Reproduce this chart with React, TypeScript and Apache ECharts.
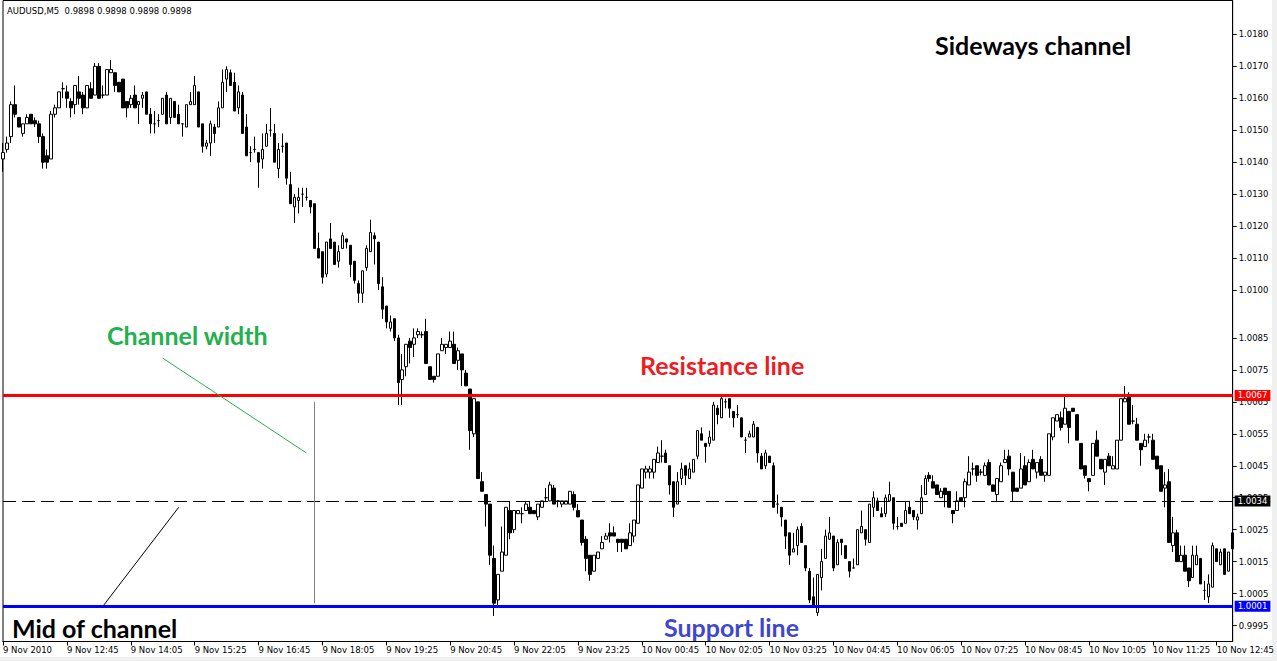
import React, { useEffect, useRef } from "react";
import * as echarts from "echarts";

// AUDUSD M5 bars, 9 Nov 2010 11:25 -> 10 Nov 2010 13:05
const opens = [
  1.0141,1.0144,1.0148,1.0158,1.0154,1.0149,1.0152,1.0155,1.0153,1.0152,
  1.0148,1.0142,1.0141,1.0155,1.0157,1.0163,1.0162,1.0159,1.0158,1.0162,
  1.0161,1.0157,1.0163,1.0161,1.0170,1.0161,1.0161,1.0168,1.0168,1.0165,
  1.0166,1.0159,1.0158,1.0161,1.0158,1.0160,1.0162,1.0155,1.0152,1.0153,
  1.0155,1.0161,1.0154,1.0159,1.0155,1.0152,1.0151,1.0158,1.0158,1.0162,
  1.0152,1.0145,1.0146,1.0151,1.0151,1.0157,1.0166,1.0168,1.0165,1.0157,
  1.0161,1.0151,1.0143,1.0144,1.0143,1.0141,1.0145,1.0150,1.0149,1.0138,
  1.0145,1.0146,1.0133,1.0126,1.0128,1.0130,1.0129,1.0128,1.0127,1.0113,
  1.0112,1.0105,1.0116,1.0115,1.0109,1.0113,1.0116,1.0114,1.0109,1.0102,
  1.0099,1.0107,1.0112,1.0117,1.0115,1.0101,1.0095,1.0088,1.0091,1.0085,
  1.0072,1.0076,1.0084,1.0083,1.0086,1.0086,1.0087,1.0076,1.0073,1.0073,
  1.0081,1.0082,1.0082,1.0083,1.0078,1.0080,1.0074,1.0069,1.0055,1.0065,
  1.0040,1.0036,1.0033,1.0016,1.0003,1.0012,1.0017,1.0031,1.0025,1.0030,
  1.0030,1.0031,1.0032,1.0031,1.0029,1.0032,1.0035,1.0034,1.0038,1.0034,
  1.0033,1.0033,1.0033,1.0036,1.0031,1.0028,1.0022,1.0017,1.0012,1.0016,
  1.0019,1.0022,1.0024,1.0024,1.0022,1.0022,1.0022,1.0020,1.0023,1.0027,
  1.0038,1.0043,1.0043,1.0043,1.0046,1.0048,1.0049,1.0045,1.0040,1.0033,
  1.0041,1.0045,1.0041,1.0043,1.0048,1.0055,1.0052,1.0052,1.0053,1.0063,
  1.0060,1.0065,1.0066,1.0062,1.0061,1.0060,1.0053,1.0054,1.0054,1.0057,
  1.0048,1.0045,1.0048,1.0045,1.0033,1.0032,1.0028,1.0024,1.0018,1.0020,
  1.0026,1.0020,1.0012,1.0004,0.9999,1.0010,1.0016,1.0022,1.0023,1.0014,
  1.0022,1.0020,1.0015,1.0013,1.0014,1.0024,1.0025,1.0021,1.0032,1.0034,
  1.0030,1.0030,1.0034,1.0035,1.0026,1.0027,1.0027,1.0032,1.0031,1.0028,
  1.0030,1.0036,1.0042,1.0040,1.0039,1.0035,1.0038,1.0037,1.0031,1.0031,
  1.0035,1.0035,1.0039,1.0044,1.0045,1.0043,1.0042,1.0046,1.0039,1.0036,
  1.0040,1.0046,1.0048,1.0043,1.0038,1.0038,1.0045,1.0040,1.0047,1.0043,
  1.0047,1.0042,1.0042,1.0054,1.0059,1.0060,1.0058,1.0062,1.0063,1.0061,
  1.0052,1.0045,1.0041,1.0042,1.0053,1.0047,1.0043,1.0048,1.0044,1.0044,
  1.0053,1.0065,1.0067,1.0059,1.0058,1.0052,1.0051,1.0054,1.0053,1.0048,
  1.0045,1.0038,1.0040,1.0020,1.0024,1.0015,1.0017,1.0013,1.0010,1.0014,
  1.0016,1.0006,1.0004,1.0007,1.0019,1.0014,1.0019,1.0012,1.0024,
];

const closes = [
  1.0143,1.0146,1.0158,1.0155,1.0151,1.0152,1.0154,1.0152,1.0152,1.0148,
  1.0140,1.0140,1.0155,1.0157,1.0162,1.0163,1.0160,1.0157,1.0164,1.0160,
  1.0157,1.0164,1.0160,1.0170,1.0160,1.0161,1.0169,1.0169,1.0164,1.0162,
  1.0157,1.0157,1.0160,1.0157,1.0159,1.0161,1.0155,1.0152,1.0152,1.0153,
  1.0160,1.0152,1.0160,1.0154,1.0152,1.0152,1.0158,1.0159,1.0164,1.0151,
  1.0145,1.0146,1.0152,1.0149,1.0157,1.0165,1.0169,1.0164,1.0156,1.0162,
  1.0149,1.0142,1.0143,1.0144,1.0140,1.0144,1.0149,1.0150,1.0140,1.0144,
  1.0145,1.0135,1.0127,1.0129,1.0129,1.0130,1.0129,1.0126,1.0113,1.0110,
  1.0104,1.0115,1.0113,1.0108,1.0112,1.0117,1.0115,1.0108,1.0103,1.0099,
  1.0106,1.0113,1.0118,1.0116,1.0102,1.0094,1.0090,1.0090,1.0085,1.0071,
  1.0075,1.0083,1.0082,1.0085,1.0087,1.0086,1.0077,1.0072,1.0072,1.0080,
  1.0083,1.0083,1.0084,1.0077,1.0081,1.0075,1.0070,1.0056,1.0066,1.0041,
  1.0037,1.0033,1.0017,1.0002,1.0011,1.0018,1.0032,1.0024,1.0031,1.0031,
  1.0030,1.0033,1.0030,1.0030,1.0033,1.0034,1.0035,1.0039,1.0033,1.0034,
  1.0034,1.0034,1.0037,1.0032,1.0029,1.0021,1.0016,1.0011,1.0017,1.0018,
  1.0021,1.0023,1.0023,1.0023,1.0021,1.0021,1.0019,1.0024,1.0028,1.0039,
  1.0044,1.0044,1.0044,1.0047,1.0049,1.0048,1.0046,1.0039,1.0032,1.0040,
  1.0044,1.0042,1.0044,1.0047,1.0056,1.0053,1.0051,1.0054,1.0064,1.0061,
  1.0066,1.0065,1.0063,1.0060,1.0061,1.0054,1.0053,1.0055,1.0058,1.0049,
  1.0044,1.0049,1.0046,1.0032,1.0033,1.0029,1.0023,1.0017,1.0019,1.0025,
  1.0021,1.0013,1.0003,1.0001,1.0011,1.0015,1.0023,1.0024,1.0013,1.0021,
  1.0021,1.0016,1.0012,1.0013,1.0025,1.0026,1.0022,1.0033,1.0035,1.0031,
  1.0029,1.0035,1.0036,1.0027,1.0026,1.0026,1.0031,1.0030,1.0029,1.0029,
  1.0035,1.0041,1.0041,1.0038,1.0036,1.0037,1.0036,1.0032,1.0030,1.0034,
  1.0034,1.0040,1.0043,1.0044,1.0042,1.0043,1.0045,1.0039,1.0037,1.0041,
  1.0045,1.0047,1.0044,1.0037,1.0037,1.0044,1.0039,1.0046,1.0044,1.0046,
  1.0042,1.0043,1.0055,1.0060,1.0061,1.0057,1.0063,1.0057,1.0062,1.0053,
  1.0044,1.0042,1.0040,1.0052,1.0048,1.0044,1.0047,1.0045,1.0045,1.0053,
  1.0066,1.0066,1.0058,1.0059,1.0053,1.0050,1.0053,1.0054,1.0047,1.0044,
  1.0037,1.0039,1.0021,1.0024,1.0015,1.0017,1.0012,1.0009,1.0017,1.0017,
  1.0008,1.0006,1.0008,1.0020,1.0015,1.0018,1.0011,1.0018,1.0019,
];

const lows = [
  1.0137,1.0143,1.0146,1.0154,1.0151,1.0148,1.0152,1.0152,1.0151,1.0146,
  1.0138,1.0138,1.0141,1.0154,1.0157,1.0160,1.0157,1.0154,1.0155,1.0158,
  1.0155,1.0157,1.0160,1.0161,1.0160,1.0160,1.0161,1.0168,1.0162,1.0162,
  1.0157,1.0154,1.0157,1.0157,1.0152,1.0157,1.0155,1.0149,1.0149,1.0151,
  1.0155,1.0152,1.0152,1.0154,1.0152,1.0148,1.0151,1.0158,1.0158,1.0151,
  1.0143,1.0144,1.0142,1.0146,1.0151,1.0157,1.0162,1.0164,1.0156,1.0155,
  1.0149,1.0142,1.0140,1.0143,1.0132,1.0138,1.0145,1.0148,1.0140,1.0135,
  1.0143,1.0133,1.0127,1.0121,1.0124,1.0126,1.0128,1.0124,1.0113,1.0110,
  1.0102,1.0104,1.0113,1.0108,1.0107,1.0113,1.0113,1.0104,1.0102,1.0096,
  1.0096,1.0106,1.0112,1.0108,1.0100,1.0091,1.0088,1.0087,1.0084,1.0064,
  1.0064,1.0073,1.0077,1.0079,1.0085,1.0085,1.0077,1.0072,1.0071,1.0073,
  1.0081,1.0080,1.0082,1.0077,1.0075,1.0070,1.0070,1.0050,1.0054,1.0041,
  1.0037,1.0026,1.0014,0.9998,1.0001,1.0012,1.0017,1.0022,1.0024,1.0030,
  1.0027,1.0031,1.0030,1.0030,1.0028,1.0032,1.0034,1.0034,1.0033,1.0032,
  1.0032,1.0033,1.0033,1.0031,1.0029,1.0020,1.0012,1.0009,1.0012,1.0016,
  1.0019,1.0022,1.0021,1.0023,1.0018,1.0018,1.0019,1.0020,1.0021,1.0027,
  1.0038,1.0041,1.0041,1.0041,1.0046,1.0046,1.0046,1.0036,1.0029,1.0033,
  1.0039,1.0039,1.0041,1.0043,1.0047,1.0053,1.0046,1.0051,1.0053,1.0058,
  1.0060,1.0063,1.0060,1.0057,1.0060,1.0054,1.0049,1.0054,1.0054,1.0046,
  1.0044,1.0044,1.0046,1.0032,1.0030,1.0026,1.0019,1.0014,1.0018,1.0017,
  1.0021,1.0012,1.0002,1.0001,0.9998,1.0006,1.0016,1.0022,1.0012,1.0014,
  1.0017,1.0016,1.0010,1.0013,1.0014,1.0024,1.0020,1.0021,1.0029,1.0031,
  1.0029,1.0029,1.0034,1.0025,1.0025,1.0026,1.0027,1.0030,1.0028,1.0025,
  1.0030,1.0036,1.0040,1.0038,1.0036,1.0035,1.0032,1.0032,1.0027,1.0031,
  1.0034,1.0032,1.0039,1.0042,1.0040,1.0042,1.0042,1.0039,1.0037,1.0034,
  1.0040,1.0046,1.0042,1.0034,1.0037,1.0038,1.0039,1.0040,1.0044,1.0041,
  1.0042,1.0040,1.0042,1.0053,1.0059,1.0056,1.0058,1.0052,1.0062,1.0053,
  1.0044,1.0041,1.0037,1.0042,1.0048,1.0044,1.0039,1.0045,1.0044,1.0044,
  1.0053,1.0065,1.0058,1.0058,1.0053,1.0045,1.0051,1.0052,1.0047,1.0044,
  1.0037,1.0032,1.0021,1.0018,1.0015,1.0015,1.0012,1.0007,1.0010,1.0014,
  1.0008,1.0003,1.0002,1.0007,1.0015,1.0014,1.0011,1.0012,1.0019,
];

const highs = [
  1.0146,1.0148,1.0159,1.0164,1.0154,1.0152,1.0155,1.0155,1.0154,1.0153,
  1.0149,1.0144,1.0156,1.0158,1.0162,1.0165,1.0164,1.0160,1.0164,1.0167,
  1.0162,1.0164,1.0165,1.0171,1.0171,1.0164,1.0169,1.0172,1.0168,1.0165,
  1.0166,1.0159,1.0161,1.0164,1.0159,1.0162,1.0162,1.0157,1.0156,1.0155,
  1.0160,1.0162,1.0160,1.0159,1.0158,1.0152,1.0158,1.0162,1.0167,1.0162,
  1.0152,1.0147,1.0153,1.0152,1.0159,1.0169,1.0170,1.0169,1.0168,1.0164,
  1.0162,1.0155,1.0145,1.0148,1.0143,1.0149,1.0152,1.0157,1.0152,1.0146,
  1.0149,1.0146,1.0137,1.0130,1.0132,1.0132,1.0132,1.0128,1.0127,1.0118,
  1.0112,1.0115,1.0121,1.0115,1.0114,1.0118,1.0116,1.0114,1.0109,1.0103,
  1.0106,1.0114,1.0122,1.0118,1.0115,1.0104,1.0095,1.0092,1.0091,1.0086,
  1.0080,1.0083,1.0085,1.0088,1.0088,1.0087,1.0091,1.0076,1.0073,1.0080,
  1.0085,1.0083,1.0087,1.0087,1.0082,1.0080,1.0075,1.0069,1.0066,1.0065,
  1.0043,1.0036,1.0033,1.0020,1.0011,1.0026,1.0032,1.0034,1.0031,1.0031,
  1.0032,1.0034,1.0034,1.0031,1.0033,1.0034,1.0038,1.0040,1.0039,1.0034,
  1.0034,1.0034,1.0037,1.0037,1.0033,1.0028,1.0023,1.0017,1.0017,1.0018,
  1.0023,1.0024,1.0027,1.0026,1.0022,1.0022,1.0022,1.0027,1.0028,1.0039,
  1.0044,1.0045,1.0045,1.0047,1.0051,1.0053,1.0050,1.0045,1.0040,1.0043,
  1.0046,1.0045,1.0046,1.0047,1.0056,1.0057,1.0052,1.0056,1.0065,1.0064,
  1.0067,1.0066,1.0066,1.0062,1.0064,1.0060,1.0054,1.0056,1.0059,1.0057,
  1.0049,1.0050,1.0048,1.0046,1.0036,1.0032,1.0028,1.0024,1.0024,1.0026,
  1.0027,1.0020,1.0013,1.0010,1.0011,1.0019,1.0025,1.0029,1.0023,1.0022,
  1.0022,1.0020,1.0015,1.0016,1.0025,1.0031,1.0025,1.0033,1.0037,1.0035,
  1.0032,1.0036,1.0040,1.0035,1.0029,1.0027,1.0034,1.0034,1.0031,1.0030,
  1.0039,1.0042,1.0043,1.0042,1.0039,1.0038,1.0038,1.0037,1.0031,1.0037,
  1.0035,1.0041,1.0048,1.0046,1.0045,1.0044,1.0046,1.0047,1.0039,1.0041,
  1.0046,1.0050,1.0050,1.0043,1.0038,1.0049,1.0048,1.0047,1.0050,1.0046,
  1.0048,1.0043,1.0055,1.0060,1.0061,1.0062,1.0067,1.0062,1.0063,1.0061,
  1.0052,1.0045,1.0041,1.0052,1.0056,1.0047,1.0047,1.0049,1.0048,1.0053,
  1.0066,1.0070,1.0068,1.0064,1.0060,1.0052,1.0055,1.0055,1.0055,1.0048,
  1.0045,1.0043,1.0044,1.0029,1.0025,1.0020,1.0020,1.0013,1.0020,1.0020,
  1.0016,1.0009,1.0011,1.0021,1.0019,1.0019,1.0019,1.0018,1.0026,
];

const firstLabel = "9 Nov 2010";
const yTickLabels = [
  1.018, 1.017, 1.016, 1.015, 1.014, 1.013, 1.012, 1.011, 1.01,
  1.0085, 1.0075, 1.0065, 1.0055, 1.0045, 1.0035, 1.0025, 1.0015, 1.0005, 0.9995,
];
const resistance = 1.0067;
const middle = 1.0034;
const support = 1.0001;

// 5-minute bar times starting 9 Nov 11:25
function buildTimes(n: number): string[] {
  const out: string[] = [];
  const pad = (v: number) => (v < 10 ? "0" + v : "" + v);
  for (let i = 0; i < n; i++) {
    const t = 11 * 60 + 25 + 5 * i;
    const day = 9 + Math.floor(t / 1440);
    const m = t % 1440;
    out.push(`${day} Nov ${pad(Math.floor(m / 60))}:${pad(m % 60)}`);
  }
  return out;
}
const categories = buildTimes(opens.length);

const AXIS_FONT = '"DejaVu Sans"';

export default function App() {
  const ref = useRef<HTMLDivElement>(null);
  useEffect(() => {
    document.body.style.margin = "0";
    const chart = echarts.init(ref.current!, null, { renderer: "svg" });
    const candles = opens.map((o, i) => [o, closes[i], lows[i], highs[i]]);
    const priceLabel = (bg: string) => ({
      show: true,
      position: "end",
      distance: 2,
      color: "#fff",
      backgroundColor: bg,
      fontFamily: AXIS_FONT,
      fontSize: 8.5,
      padding: [1, 3, 1, 3],
      lineHeight: 9,
    });
    const textStyle = (text: string, x: number, y: number, color: string, size: number) => ({
      type: "text",
      x,
      y,
      silent: true,
      style: {
        text,
        fill: color,
        font: `bold ${size}px Lato`,
        align: "left",
        verticalAlign: "middle",
      },
    });
    chart.setOption({
      animation: false,
      backgroundColor: "#fff",
      grid: {
        left: 2.5,
        right: 41.5,
        top: 0.5,
        bottom: 19.5,
        show: true,
        borderColor: "#000",
        borderWidth: 1,
        backgroundColor: "#fff",
      },
      xAxis: {
        type: "category",
        data: categories,
        boundaryGap: false,
        axisLine: { show: true, lineStyle: { color: "#000", width: 1 } },
        axisTick: {
          show: true,
          length: 4,
          interval: (idx: number) => idx % 16 === 0,
          lineStyle: { color: "#000" },
        },
        axisLabel: {
          interval: (idx: number) => idx % 16 === 0,
          formatter: (v: string, idx: number) => (idx === 0 ? firstLabel : v),
          align: "left",
          margin: 4,
          color: "#000",
          fontFamily: AXIS_FONT,
          fontSize: 8.5,
        },
        splitLine: { show: false },
      },
      yAxis: {
        type: "value",
        position: "right",
        min: 0.999,
        max: 1.01906,
        axisLine: { show: true, lineStyle: { color: "#000", width: 1 } },
        axisTick: {
          show: true,
          length: 4,
          customValues: yTickLabels,
          lineStyle: { color: "#000" },
        },
        axisLabel: {
          customValues: yTickLabels,
          formatter: (v: number) => v.toFixed(4),
          color: "#000",
          fontFamily: AXIS_FONT,
          fontSize: 8.5,
          margin: 6,
        },
        splitLine: { show: false },
      },
      series: [
        {
          type: "candlestick",
          data: candles,
          barWidth: 3,
          clip: false,
          itemStyle: {
            color: "#fff",
            color0: "#000",
            borderColor: "#000",
            borderColor0: "#000",
            borderColorDoji: "#000",
            borderWidth: 1,
          },
          markLine: {
            silent: true,
            precision: 5,
            symbol: ["none", "none"],
            animation: false,
            data: [
              {
                yAxis: resistance,
                lineStyle: { color: "#ff0000", width: 3, type: "solid" },
                label: { ...priceLabel("#ff0000"), formatter: resistance.toFixed(4) },
              },
              {
                yAxis: middle,
                lineStyle: { color: "#000", width: 1, type: [13, 6] },
                label: { ...priceLabel("#000"), formatter: middle.toFixed(4) },
              },
              {
                yAxis: support,
                lineStyle: { color: "#0000ff", width: 3, type: "solid" },
                label: { ...priceLabel("#0000ff"), formatter: support.toFixed(4) },
              },
              [
                {
                  coord: [78, 1.0065],
                  lineStyle: { color: "#808080", width: 1, type: "solid" },
                  label: { show: false },
                },
                { coord: [78, 1.0002] },
              ],
              [
                {
                  coord: [40, 1.00787],
                  lineStyle: { color: "#22b14c", width: 1, type: "solid" },
                  label: { show: false },
                },
                { coord: [76, 1.0049] },
              ],
              [
                {
                  coord: [25, 1.0001],
                  lineStyle: { color: "#000", width: 1, type: "solid" },
                  label: { show: false },
                },
                { coord: [44, 1.0032] },
              ],
            ],
          },
        },
      ],
      graphic: [
        { type: "rect", silent: true, shape: { x: 1272, y: 0, width: 5, height: 661 }, style: { fill: "#f0f0f0" } },
        { type: "rect", silent: true, shape: { x: 0, y: 657, width: 1277, height: 4 }, style: { fill: "#f0f0f0" } },
        {
          type: "text",
          x: 7,
          y: 11,
          silent: true,
          style: {
            text: "AUDUSD,M5  0.9898 0.9898 0.9898 0.9898",
            fill: "#000",
            font: `8.5px ${AXIS_FONT}`,
            align: "left",
            verticalAlign: "middle",
          },
        },
        textStyle("Sideways channel", 935, 45, "#000", 25),
        textStyle("Channel width", 107, 335, "#22b14c", 25),
        textStyle("Resistance line", 640, 365, "#ed1c24", 25),
        textStyle("Support line", 664, 627, "#3f48cc", 25),
        textStyle("Mid of channel", 12, 628, "#000", 25),
      ],
    });
    return () => chart.dispose();
  }, []);
  return <div ref={ref} style={{ width: 1277, height: 661 }} />;
}
